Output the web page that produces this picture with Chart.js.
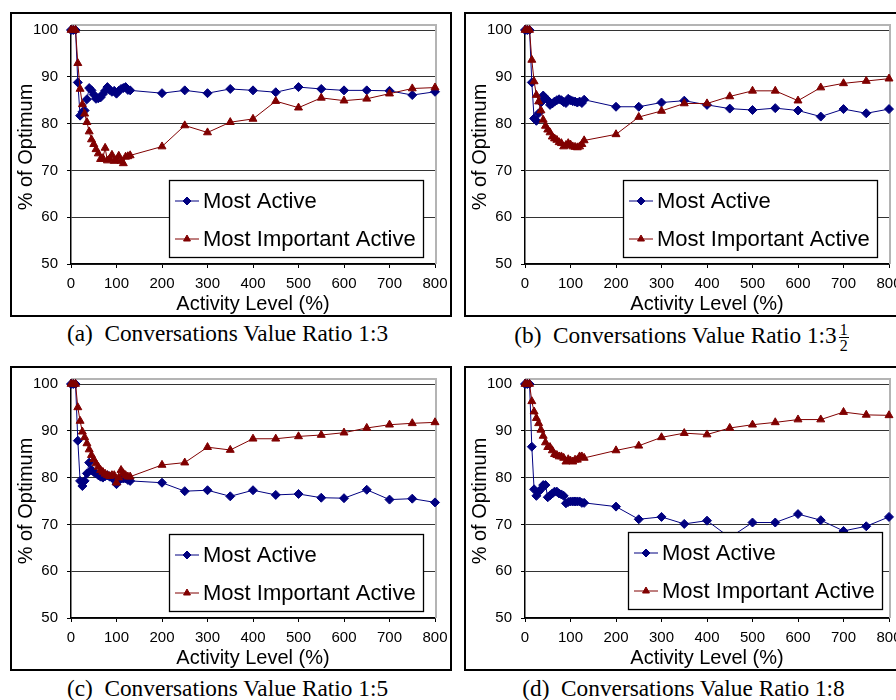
<!DOCTYPE html>
<html><head><meta charset="utf-8">
<script src="https://cdn.jsdelivr.net/npm/chart.js@4/dist/chart.umd.min.js"></script>
<style>
html,body{margin:0;padding:0;background:#fff;}
body{width:896px;height:700px;overflow:hidden;position:relative;}
.box{position:absolute;border:2px solid #000;box-sizing:border-box;width:442px;height:305px;}
canvas{position:absolute;}
.cap{position:absolute;font-family:"Liberation Serif","Times New Roman",serif;font-size:23.3px;line-height:23px;text-align:center;white-space:nowrap;color:#000;}
.frac{display:inline-block;vertical-align:-8px;font-size:16px;line-height:15px;text-align:center;margin-left:2px;}
.frac span{display:block;padding:0 1px;}
.frac .num{border-bottom:1px solid #000;}
</style></head><body>
<div class="box" style="left:10px;top:12px"></div>
<div class="box" style="left:464px;top:12px"></div>
<div class="box" style="left:10px;top:366px"></div>
<div class="box" style="left:464px;top:366px"></div>
<canvas id="ca" width="442" height="305" style="left:10px;top:12px"></canvas>
<canvas id="cb" width="442" height="305" style="left:464px;top:12px"></canvas>
<canvas id="cc" width="442" height="305" style="left:10px;top:366px"></canvas>
<canvas id="cd" width="442" height="305" style="left:464px;top:366px"></canvas>
<div class="cap" style="left:0;width:455px;top:322px">(a)&nbsp; Conversations Value Ratio 1:3</div>
<div class="cap" style="left:454px;width:455px;top:322px">(b)&nbsp; Conversations Value Ratio 1:3<span class="frac"><span class="num">1</span><span>2</span></span></div>
<div class="cap" style="left:0;width:455px;top:677px">(c)&nbsp; Conversations Value Ratio 1:5</div>
<div class="cap" style="left:456px;width:455px;top:677px">(d)&nbsp; Conversations Value Ratio 1:8</div>
<script>
// ---- data ----
const activityLevels = [0,5,10,15,20,25,30,35,40,45,50,55,60,65,70,75,80,85,90,95,100,105,110,115,120,125,130,
  200,250,300,350,400,450,500,550,600,650,700,750,800];
const seriesNames = ['Most Active','Most Important Active'];

const aMostActive = [100,100,100,88.8,81.7,82.5,82.8,85.2,87.6,87.1,86.2,85.3,85.4,85.6,86.3,87.0,87.8,87.2,86.8,87.0,86.4,87.0,87.4,87.6,87.8,87.2,87.1,
  86.5,87.1,86.5,87.4,87.1,86.7,87.8,87.4,87.1,87.1,87.0,86.1,86.8];
const aMostImportant = [100,100,100,92.9,87.4,84.1,82.1,80.3,78.3,76.6,75.6,74.5,73.6,72.4,72.6,74.8,72.1,72.5,73.3,72.0,72.3,73.1,72.0,71.5,72.9,73.0,73.2,
  75.1,79.6,78.1,80.3,81.0,84.8,83.4,85.5,84.9,85.3,86.4,87.5,87.7];

const bMostActive = [100,100,100,88.8,81.1,80.6,82.2,84.5,86.0,85.4,85.0,84.0,84.3,84.7,85.0,85.2,85.0,84.6,84.4,85.3,85.0,84.8,84.7,84.5,84.7,84.4,85.1,
  83.6,83.6,84.5,84.9,84.0,83.2,82.9,83.3,82.8,81.5,83.1,82.2,83.1];
const bMostImportant = [100,100,100,93.6,89.0,86.1,84.7,82.8,80.8,79.5,78.7,78.1,77.2,76.8,76.5,76.0,75.8,75.1,75.4,75.8,75.5,75.1,75.0,74.9,75.1,75.6,76.4,
  77.7,81.4,82.7,84.3,84.3,85.8,87.0,87.0,84.9,87.7,88.6,89.1,89.6];

const cMostActive = [100,100,100,87.9,79.3,78.2,79.3,80.9,83.2,81.6,81.2,80.9,80.5,80.2,80.0,80.3,80.5,80.2,80.0,79.5,78.6,79.5,79.8,79.8,79.8,79.5,79.3,
  78.9,77.1,77.3,76.0,77.3,76.3,76.5,75.7,75.6,77.4,75.3,75.5,74.7];
const cMostImportant = [100,100,100,95.0,92.1,89.8,88.6,87.3,86.0,84.8,83.9,83.0,82.3,81.6,81.2,80.8,80.5,80.3,80.5,80.5,78.9,80.0,81.6,80.9,80.5,80.2,80.2,
  82.7,83.2,86.5,85.9,88.3,88.3,88.8,89.1,89.6,90.6,91.3,91.6,91.8];

const dMostActive = [100,100,100,86.6,77.5,76.1,77.0,77.5,78.4,78.4,75.8,76.2,76.6,77.0,77.0,76.6,76.4,76.1,74.5,74.8,74.9,74.9,74.9,74.9,74.9,74.6,74.6,
  73.8,71.1,71.6,70.1,70.8,67.2,70.4,70.4,72.2,70.9,68.6,69.6,71.6];
const dMostImportant = [100,100,100,96.3,94.1,92.7,91.6,90.2,88.9,87.5,86.5,86.5,85.8,85.0,84.8,84.5,84.5,84.2,83.4,83.9,83.6,83.4,83.8,83.8,84.5,84.5,84.2,
  85.8,86.8,88.6,89.5,89.2,90.6,91.3,91.8,92.4,92.4,94.0,93.4,93.3];

const xTitle = 'Activity Level (%)';
const yTitle = '% of Optimum';

// ---- drawing ----
const FONT = '"Liberation Sans", Arial, sans-serif';
const BLUE = '#000080', RED = '#800000';

function marker(ctx, style, x, y, r){
  ctx.beginPath();
  if (style === 'rectRot'){
    ctx.moveTo(x - r, y); ctx.lineTo(x, y - r); ctx.lineTo(x + r, y); ctx.lineTo(x, y + r);
  } else {
    const h = r * Math.sqrt(3) / 2;
    ctx.moveTo(x, y - r); ctx.lineTo(x + h, y + r / 2); ctx.lineTo(x - h, y + r / 2);
  }
  ctx.closePath(); ctx.fill(); ctx.stroke();
}

const framePlugin = {
  id: 'frame',
  beforeDatasetsDraw(chart){
    const {ctx, chartArea: a} = chart;
    ctx.save();
    ctx.strokeStyle = '#b4b4b4'; ctx.lineWidth = 2;
    ctx.beginPath();
    ctx.moveTo(a.left, a.top - 5); ctx.lineTo(a.right + 1, a.top - 5); ctx.lineTo(a.right + 1, a.bottom);
    ctx.stroke();
    ctx.strokeStyle = '#000'; ctx.lineWidth = 1.5;
    ctx.beginPath(); ctx.moveTo(a.left, a.top - 5); ctx.lineTo(a.left, a.top); ctx.stroke();
    ctx.restore();
  }
};

const boxLegendPlugin = {
  id: 'boxLegend',
  afterDatasetsDraw(chart, args, opts){
    const {ctx, chartArea: a} = chart;
    const w = 254, h = 77;
    const x0 = Math.round(a.right - opts.rightGap - w), y0 = Math.round(a.bottom - opts.bottomGap - h);
    ctx.save();
    ctx.fillStyle = '#fff'; ctx.fillRect(x0, y0, w, h);
    ctx.strokeStyle = '#000'; ctx.lineWidth = 1.3; ctx.strokeRect(x0 + 0.5, y0 + 0.5, w, h);
    const rows = [21, 59];
    chart.data.datasets.forEach((ds, i) => {
      const y = y0 + rows[i];
      ctx.strokeStyle = ds.borderColor; ctx.lineWidth = 1;
      ctx.beginPath(); ctx.moveTo(x0 + 6, y); ctx.lineTo(x0 + 30, y); ctx.stroke();
      ctx.fillStyle = ds.backgroundColor;
      marker(ctx, ds.pointStyle, x0 + 18, y, 4);
      ctx.fillStyle = '#000'; ctx.font = '22px ' + FONT; ctx.textBaseline = 'middle'; ctx.textAlign = 'left';
      ctx.fillText(ds.label, x0 + 34, y + 1);
    });
    ctx.restore();
  }
};

function makeChart(id, active, important, legendRight, legendBottom){
  const mk = vals => activityLevels.map((x, i) => ({x: x, y: vals[i]}));
  return new Chart(document.getElementById(id), {
    type: 'line',
    data: {
      datasets: [
        {label: seriesNames[0], data: mk(active), borderColor: BLUE, backgroundColor: BLUE, borderWidth: 1,
         pointStyle: 'rectRot', pointRadius: 4.5, pointBorderWidth: 1, pointBorderColor: BLUE, pointBackgroundColor: BLUE,
         clip: false, order: 1, tension: 0},
        {label: seriesNames[1], data: mk(important), borderColor: RED, backgroundColor: RED, borderWidth: 1,
         pointStyle: 'triangle', pointRadius: 4.6, pointBorderWidth: 1, pointBorderColor: RED, pointBackgroundColor: RED,
         clip: false, order: 0, tension: 0}
      ]
    },
    options: {
      responsive: false, animation: false, devicePixelRatio: 1,
      layout: {padding: {top: 18, right: 17, left: 0, bottom: 0}},
      plugins: {legend: {display: false}, tooltip: {enabled: false},
        boxLegend: {rightGap: legendRight, bottomGap: legendBottom}},
      scales: {
        x: {type: 'linear', min: 0, max: 800,
          ticks: {stepSize: 100, color: '#000', font: {family: FONT, size: 15}, padding: 7, maxRotation: 0, autoSkip: false},
          grid: {drawOnChartArea: false, drawTicks: true, tickLength: 4, color: '#000'},
          border: {color: '#000', width: 1.5},
          title: {display: true, text: xTitle, color: '#000', font: {family: FONT, size: 20}, padding: {top: 0, bottom: 1}},
          afterFit(s){ s.height = 53; s.paddingLeft = 0; s.paddingRight = 0; }
        },
        y: {type: 'linear', min: 50, max: 100,
          ticks: {stepSize: 10, color: '#000', font: {family: FONT, size: 15}, padding: 9},
          grid: {color: '#333', lineWidth: 1, tickLength: 4, tickColor: '#000'},
          border: {color: '#000', width: 1.5},
          title: {display: true, text: yTitle, color: '#000', font: {family: FONT, size: 20}, padding: {top: 4, bottom: 0}},
          afterFit(s){ s.width = 61; }
        }
      }
    },
    plugins: [framePlugin, boxLegendPlugin]
  });
}

makeChart('ca', aMostActive, aMostImportant, 12, 7);
makeChart('cb', bMostActive, bMostImportant, 12, 7);
makeChart('cc', cMostActive, cMostImportant, 12, 7);
makeChart('cd', dMostActive, dMostImportant, 7, 9);
</script>
</body></html>
